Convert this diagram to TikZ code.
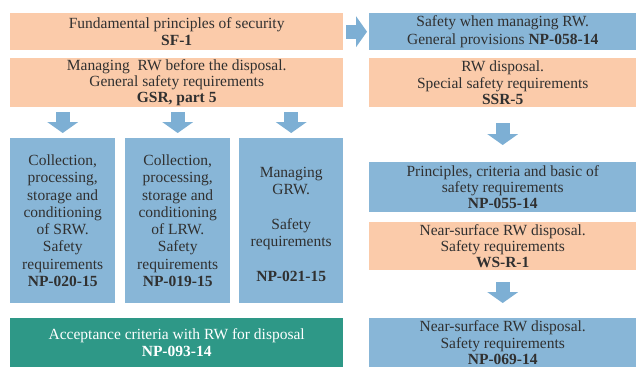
\documentclass[tikz,border=0pt]{standalone}
\usepackage{fontspec}
\setmainfont{LiberationSerif}[Extension=.ttf, UprightFont=*-Regular, BoldFont=*-Bold,
    ItalicFont=*-Italic, BoldItalicFont=*-BoldItalic]
\usetikzlibrary{arrows.meta}

\definecolor{peach}{HTML}{FBCBAA}
\definecolor{sky}{HTML}{88B6D7}
\definecolor{skyarrow}{HTML}{7DAFD4}
\definecolor{seagreen}{HTML}{2E9887}
\definecolor{ink}{HTML}{303030}

\begin{document}
\begin{tikzpicture}[x=1pt, y=-1pt,
    box/.style={anchor=north west, inner sep=0pt, align=center, text=ink,
        font=\fontsize{15.5}{17.3}\selectfont},
    tight/.style={font=\fontsize{15.5}{16.2}\selectfont},
    peachbox/.style={box, fill=peach},
    skybox/.style={box, fill=sky},
    greenbox/.style={box, fill=seagreen, text=white},
    blockarrow/.style={skyarrow, line width=14pt,
        -{Triangle[length=11pt, width=31pt, line width=0pt]}}]
    \useasboundingbox (0, 0) rectangle (636, 367);

    % left column
    \node [peachbox, minimum width=333pt, minimum height=37pt] (sf1) at (10, 13)
        {Fundamental principles of security\\ \textbf{SF-1}};
    \node [peachbox, tight, minimum width=333pt, minimum height=49pt] (gsr) at (10, 58)
        {Managing~ RW before the disposal.\\ General safety requirements\\ \textbf{GSR, part 5}};
    \node [skybox, minimum width=105pt, minimum height=165pt] (srw) at (10, 138)
        {Collection,\\ processing,\\ storage and\\ conditioning\\ of SRW.\\ Safety\\ requirements\\ \textbf{NP-020-15}};
    \node [skybox, minimum width=105pt, minimum height=165pt] (lrw) at (125, 138)
        {Collection,\\ processing,\\ storage and\\ conditioning\\ of LRW.\\ Safety\\ requirements\\ \textbf{NP-019-15}};
    \node [skybox, minimum width=104pt, minimum height=165pt] (grw) at (239, 138)
        {\mbox{}\\ Managing\\ GRW.\\ \mbox{}\\ Safety\\ requirements\\ \mbox{}\\ \textbf{NP-021-15}};
    \node [greenbox, minimum width=333pt, minimum height=49pt] (np093) at (10, 318)
        {Acceptance criteria with RW for disposal\\ \textbf{NP-093-14}};

    % right column
    \node [skybox, minimum width=267pt, minimum height=37pt] (np058) at (369, 13)
        {Safety when managing RW.\\ General provisions \textbf{NP-058-14}};
    \node [peachbox, tight, minimum width=267pt, minimum height=49pt] (ssr5) at (369, 58)
        {RW disposal.\\ Special safety requirements\\ \textbf{SSR-5}};
    \node [skybox, tight, minimum width=267pt, minimum height=50pt] (np055) at (369, 162)
        {Principles, criteria and basic of\\ safety requirements\\ \textbf{NP-055-14}};
    \node [peachbox, tight, minimum width=267pt, minimum height=48pt] (wsr1) at (369, 222)
        {Near-surface RW disposal.\\ Safety requirements\\ \textbf{WS-R-1}};
    \node [skybox, tight, minimum width=267pt, minimum height=49pt] (np069) at (369, 318)
        {Near-surface RW disposal.\\ Safety requirements\\ \textbf{NP-069-14}};

    \foreach \target in {srw, lrw, grw}
        \draw [blockarrow, shorten <=5pt, shorten >=5pt] (gsr.south -| \target.north) -- (\target.north);
    \draw [blockarrow, shorten <=3pt, shorten >=2pt] (sf1.east) -- (np058.west);
    \draw [blockarrow, shorten <=16pt, shorten >=17pt] (ssr5.south) -- (np055.north);
    \draw [blockarrow, shorten <=12pt, shorten >=15pt] (wsr1.south) -- (np069.north);
\end{tikzpicture}
\end{document}
